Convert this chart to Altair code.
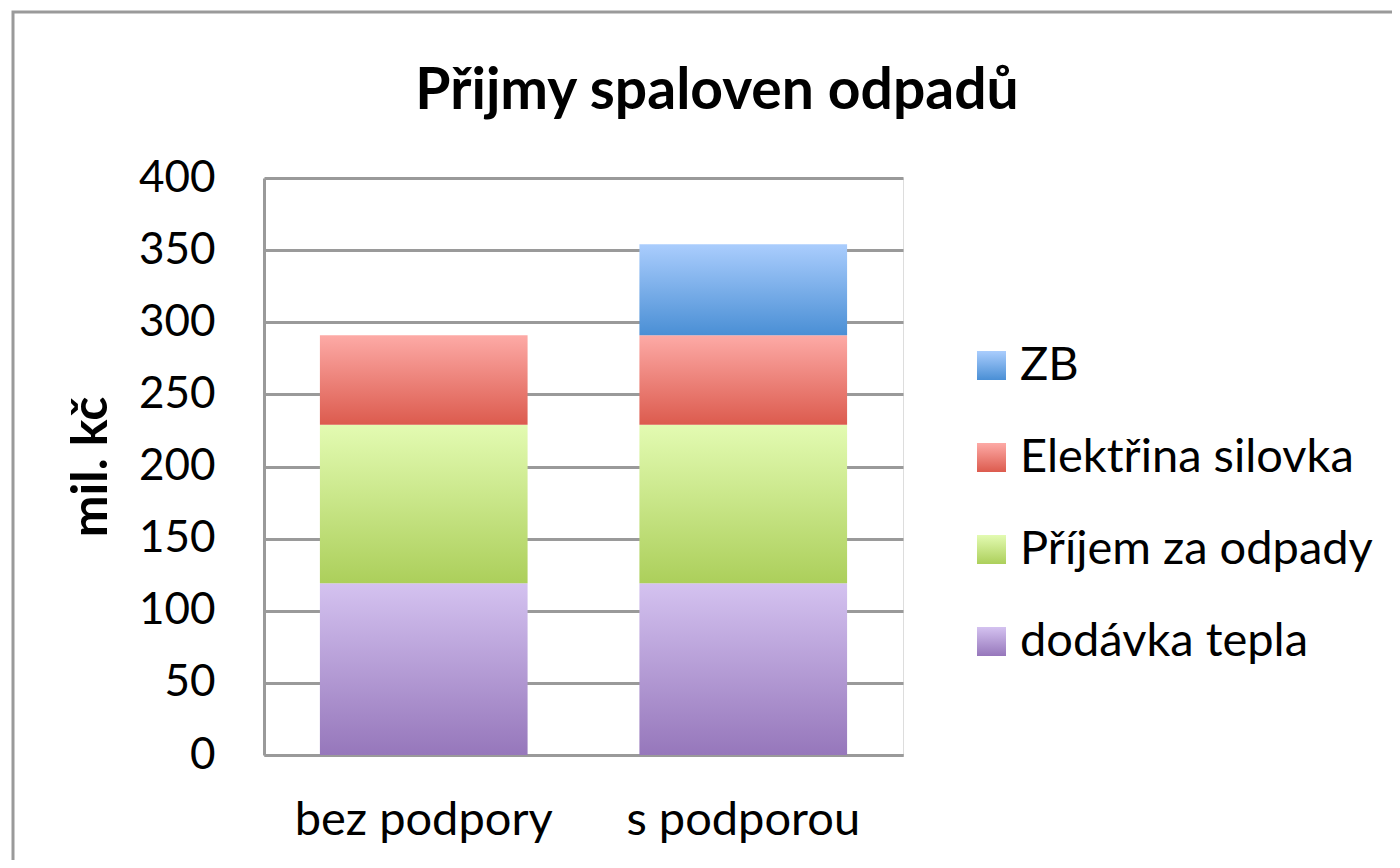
import altair as alt
import pandas as pd

title_text = "Přijmy spaloven odpadů"
y_title = "mil. kč"
categories = ["bez podpory", "s podporou"]
legend_order = ["ZB", "Elektřina silovka", "Příjem za odpady", "dodávka tepla"]
dodavka_tepla = [119, 119]
prijem_za_odpady = [110, 110]
elektrina_silovka = [62, 62]
zb = [0, 63]
y_ticks = [0, 50, 100, 150, 200, 250, 300, 350, 400]

gradient_colors = {
    "ZB": ("#aacdfd", "#4a8fd5"),
    "Elektřina silovka": ("#fdaaa6", "#dc5b4e"),
    "Příjem za odpady": ("#e3fbb2", "#accf5b"),
    "dodávka tepla": ("#d4c2f0", "#9677bb"),
}

series_values = [
    ("dodávka tepla", dodavka_tepla, 0),
    ("Příjem za odpady", prijem_za_odpady, 1),
    ("Elektřina silovka", elektrina_silovka, 2),
    ("ZB", zb, 3),
]

rows = []
for i, c in enumerate(categories):
    for name, vals, order in series_values:
        if vals[i] > 0:
            rows.append({"kategorie": c, "serie": name, "hodnota": vals[i], "poradi": order})
df = pd.DataFrame(rows)


def grad(top, bottom):
    return {
        "expr": "{gradient: 'linear', x1: 0, y1: 0, x2: 0, y2: 1, stops: ["
        f"{{offset: 0, color: '{top}'}}, {{offset: 1, color: '{bottom}'}}]}}"
    }


FONT = "Lato"
GRAY = "#9a9a9a"

bars = alt.Chart(df).mark_bar().encode(
    x=alt.X(
        "kategorie:N",
        sort=categories,
        scale=alt.Scale(paddingInner=0.35, paddingOuter=0.175),
        axis=alt.Axis(
            title=None, labelAngle=0, labelFontSize=47, labelFont=FONT, labelColor="black",
            labelPadding=42, labelLimit=0, ticks=False, domainColor=GRAY, domainWidth=3, grid=False,
        ),
    ),
    y=alt.Y(
        "hodnota:Q",
        stack="zero",
        scale=alt.Scale(domain=[0, 400], nice=False),
        axis=alt.Axis(
            values=y_ticks, title=y_title, titleFontSize=50, titleFont=FONT, titleFontWeight="bold",
            titleColor="black", titlePadding=22, labelFontSize=44, labelFont=FONT, labelColor="black",
            labelPadding=49, ticks=False, domainColor=GRAY, domainWidth=3,
            grid=True, gridColor=GRAY, gridWidth=3,
        ),
    ),
    color=alt.Color(
        "serie:N",
        scale=alt.Scale(domain=legend_order, range=[grad(*gradient_colors[s]) for s in legend_order]),
        legend=alt.Legend(
            title=None, orient="none", legendX=704, legendY=164, symbolType="square",
            symbolSize=841, symbolStrokeWidth=0, labelFontSize=47, labelFont=FONT,
            labelColor="black", labelOffset=5, labelLimit=0, rowPadding=44, padding=0,
        ),
    ),
    order=alt.Order("poradi:Q"),
)

frame = alt.Chart(pd.DataFrame({"f": [0]})).mark_rect(
    filled=False, stroke=GRAY, strokeWidth=3
).encode(x=alt.value(-251), y=alt.value(-166), x2=alt.value(1300), y2=alt.value(800))

title = alt.Chart(pd.DataFrame({"t": [title_text]})).mark_text(
    font=FONT, fontSize=57, fontWeight="bold", baseline="alphabetic", align="center", color="black"
).encode(text="t:N", x=alt.value(453), y=alt.value(-69))

chart = alt.layer(frame, bars, title).properties(
    width=639,
    height=577,
    autosize="none",
    padding={"left": 256, "top": 170, "right": 489, "bottom": 105},
).configure_view(stroke=None).configure(background="white")

chart.save("out.html", embed_options={"renderer": "svg", "actions": False})
